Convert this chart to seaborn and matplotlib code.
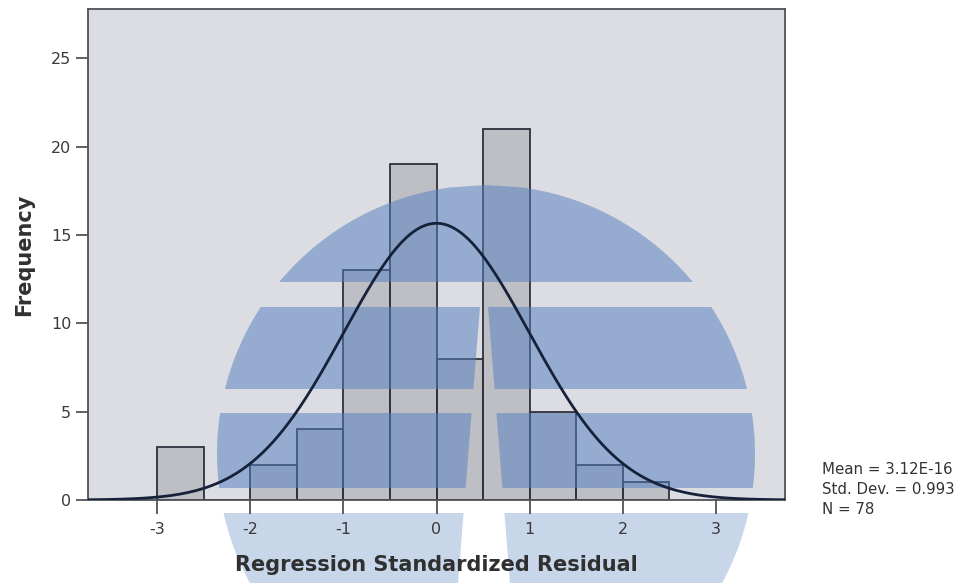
import numpy as np
import pandas as pd
import matplotlib
matplotlib.use("Agg")
import matplotlib.pyplot as plt
from matplotlib.patches import Polygon
import seaborn as sns

# ---- data ----
bin_left = [-3.0, -2.5, -2.0, -1.5, -1.0, -0.5, 0.0, 0.5, 1.0, 1.5, 2.0]
counts = [3, 0, 2, 4, 13, 19, 8, 21, 5, 2, 1]
bin_width = 0.5
mean_val = 3.12e-16
std_val = 0.993
n_val = 78
x_ticks = [-3, -2, -1, 0, 1, 2, 3]
y_ticks = [0, 5, 10, 15, 20, 25]
stats_lines = ["Mean = 3.12E-16", "Std. Dev. = 0.993", "N = 78"]

df = pd.DataFrame({"center": np.array(bin_left) + bin_width / 2, "count": counts})

sns.set_theme(style="white")
plt.rcParams["font.family"] = ["DejaVu Sans"]

W, H = 966, 583
fig = plt.figure(figsize=(W / 100, H / 100), dpi=100)
ax = fig.add_axes([88 / W, 1 - 500 / H, (785 - 88) / W, (500 - 9) / H])
ax.set_facecolor("#dcdde3")

sns.histplot(data=df, x="center", weights="count", binwidth=bin_width,
             binrange=(bin_left[0], bin_left[-1] + bin_width),
             color="#9a9aa2", alpha=0.45, edgecolor="#30303c", linewidth=1.3,
             ax=ax, zorder=1)

# normal curve from the displayed statistics
xs = np.linspace(-3.74, 3.74, 400)
ys = n_val * bin_width * np.exp(-0.5 * ((xs - mean_val) / std_val) ** 2) / (std_val * np.sqrt(2 * np.pi))
sns.lineplot(x=xs, y=ys, color="#16213a", linewidth=2.0, ax=ax, zorder=3)

ax.set_xlim(-3.74, 3.74)
ax.set_ylim(0, 27.8)
ax.set_xticks(x_ticks)
ax.set_xticklabels([str(t) for t in x_ticks])
ax.set_yticks(y_ticks)
ax.set_yticklabels([str(t) for t in y_ticks])
ax.tick_params(axis="both", direction="out", length=9, width=1.2, color="#444444",
               labelsize=11.5, labelcolor="#3a3a3a", left=True, bottom=True)
ax.tick_params(axis="x", length=10, pad=6)
ax.tick_params(axis="y", pad=3)
for s in ax.spines.values():
    s.set_visible(True)
    s.set_color("#505058")
    s.set_linewidth(1.3)
ax.set_xlabel("Regression Standardized Residual", fontsize=15, fontweight="bold",
              color="#303030", labelpad=13)
ax.set_ylabel("Frequency", fontsize=15, fontweight="bold", color="#303030", labelpad=12)

# ---- watermark logo (decoration) ----
cx, cy, r = 486.0, 454.0, 269.0

def arc_hw(y):
    return np.sqrt(np.clip(r ** 2 - (y - cy) ** 2, 0, None))

def gap_hw(y):
    return 4 + 22 * (y - 307) / 276.0

def to_fig(pts):
    return [(x / W, 1 - y / H) for x, y in pts]

def band_pieces(y0, y1, split):
    yy = np.linspace(y0, y1, 40)
    if not split:
        left = [(cx - arc_hw(y), y) for y in yy]
        right = [(cx + arc_hw(y), y) for y in yy[::-1]]
        return [left + right]
    gc = 484.0
    lp = [(cx - arc_hw(y), y) for y in yy] + [(gc - gap_hw(y), y) for y in yy[::-1]]
    rp = [(gc + gap_hw(y), y) for y in yy] + [(cx + arc_hw(y), y) for y in yy[::-1]]
    return [lp, rp]

inner = band_pieces(cy - r, 282, False) + band_pieces(307, 389, True) + band_pieces(413, 488, True)
for pts in inner:
    p = Polygon(to_fig(pts), closed=True, transform=fig.transFigure,
                facecolor="#5580bf", edgecolor="none", alpha=0.52, zorder=2)
    ax.add_patch(p)
for pts in band_pieces(513, 590, True):
    p = Polygon(to_fig(pts), closed=True, transform=fig.transFigure,
                facecolor="#c8d6ea", edgecolor="none", zorder=-1)
    fig.add_artist(p)

# ---- statistics text ----
for i, line in enumerate(stats_lines):
    fig.text(822 / W, 1 - (470 + 20 * i) / H, line, fontsize=10.8, color="#333333",
             ha="left", va="center")

fig.savefig("out.png", dpi=100, facecolor="white")
